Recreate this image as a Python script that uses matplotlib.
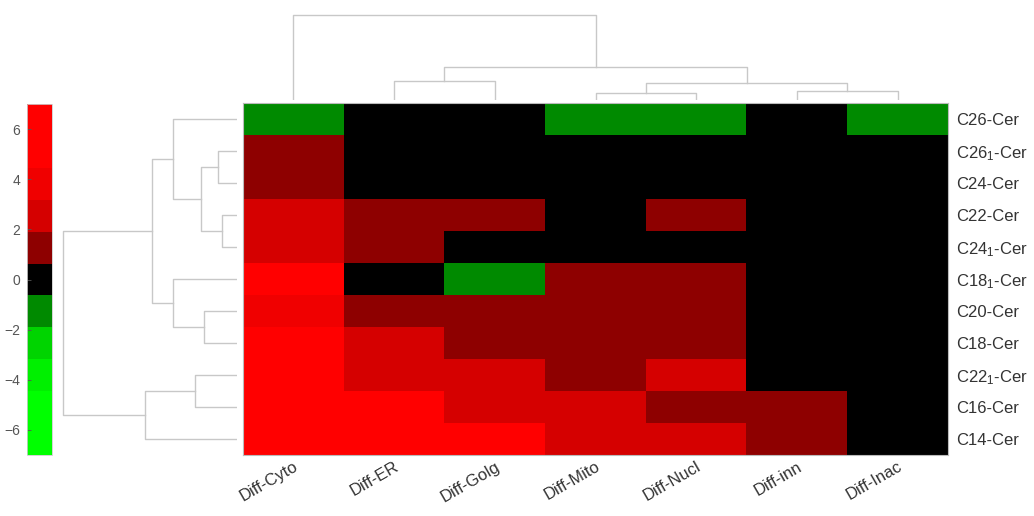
import numpy as np
import matplotlib
matplotlib.use("Agg")
import matplotlib.pyplot as plt
from matplotlib.colors import ListedColormap

plt.rcParams['font.family'] = ['Liberation Sans', 'DejaVu Sans']
plt.rcParams['mathtext.default'] = 'regular'

# samples (columns) and ceramide species (rows), in clustered order
cols = ['Diff-Cyto', 'Diff-ER', 'Diff-Golg', 'Diff-Mito', 'Diff-Nucl', 'Diff-inn', 'Diff-Inac']
rows = ['C26-Cer', 'C26$_1$-Cer', 'C24-Cer', 'C22-Cer', 'C24$_1$-Cer', 'C18$_1$-Cer',
        'C20-Cer', 'C18-Cer', 'C22$_1$-Cer', 'C16-Cer', 'C14-Cer']

vals = np.array([
    [-1.3, 0.0, 0.0, -1.3, -1.3, 0.0, -1.3],
    [1.3, 0.0, 0.0, 0.0, 0.0, 0.0, 0.0],
    [1.3, 0.0, 0.0, 0.0, 0.0, 0.0, 0.0],
    [2.5, 1.3, 1.3, 0.0, 1.3, 0.0, 0.0],
    [2.5, 1.3, 0.0, 0.0, 0.0, 0.0, 0.0],
    [5.5, 0.0, -1.3, 1.3, 1.3, 0.0, 0.0],
    [3.8, 1.3, 1.3, 1.3, 1.3, 0.0, 0.0],
    [5.5, 2.5, 1.3, 1.3, 1.3, 0.0, 0.0],
    [5.5, 2.5, 2.5, 1.3, 2.5, 0.0, 0.0],
    [5.5, 5.5, 2.5, 2.5, 1.3, 1.3, 0.0],
    [5.5, 5.5, 5.5, 2.5, 2.5, 1.3, 0.0],
])

# linkage tables: (left, right, height); new clusters numbered after the leaves
col_links = [(3, 4, 7), (5, 6, 9), (1, 2, 19), (7, 8, 17), (9, 10, 33), (0, 11, 85)]
row_links = [(1, 2, 19), (3, 4, 15), (11, 12, 36), (0, 13, 64), (6, 7, 33),
             (5, 15, 64), (14, 16, 85), (8, 9, 42), (18, 10, 92), (17, 19, 174)]

cmap_colors = ['#00ff00', '#00ff00', '#00f000', '#00d400', '#008a00', '#000000',
               '#8e0000', '#d50000', '#f00000', '#ff0000', '#ff0000']
cmap = ListedColormap(cmap_colors)

W, H = 1034, 516
fig = plt.figure(figsize=(W / 100, H / 100), dpi=100)


def px_axes(x0, y0, x1, y1):
    # axes from pixel box (top-left origin)
    return fig.add_axes([x0 / W, 1 - y1 / H, (x1 - x0) / W, (y1 - y0) / H])


def draw_dendro(ax, links, n, vertical):
    pos = {i: i + 0.5 for i in range(n)}
    hgt = {i: 0.0 for i in range(n)}
    for k, (a, b, h) in enumerate(links):
        xs = [pos[a], pos[a], pos[b], pos[b]]
        ys = [hgt[a], h, h, hgt[b]]
        if vertical:
            ax.plot(xs, ys, color='#c8c8c8', lw=1.0)
        else:
            ax.plot(ys, xs, color='#c8c8c8', lw=1.0)
        pos[n + k] = (pos[a] + pos[b]) / 2
        hgt[n + k] = h


# heatmap
ax = px_axes(243, 103, 948, 455)
im = ax.imshow(vals, cmap=cmap, vmin=-7, vmax=7, aspect='auto',
               interpolation='nearest', extent=(0, len(cols), len(rows), 0))
ax.set_xticks(np.arange(len(cols)) + 0.5)
ax.set_xticklabels(cols, rotation=30, ha='right', rotation_mode='anchor',
                   fontsize=12, color='#333333')
ax.set_yticks(np.arange(len(rows)) + 0.5)
ax.set_yticklabels(rows, fontsize=12, color='#333333')
ax.yaxis.tick_right()
ax.tick_params(length=0)
ax.tick_params(axis='y', pad=6)
ax.tick_params(axis='x', pad=3)
for s in ax.spines.values():
    s.set_color('#bbbbbb')
    s.set_linewidth(0.8)

# column dendrogram
axt = px_axes(243, 12, 948, 100)
draw_dendro(axt, col_links, len(cols), vertical=True)
axt.set_xlim(0, len(cols))
axt.set_ylim(0, 88)
axt.axis('off')

# row dendrogram
axl = px_axes(60, 103, 237, 455)
draw_dendro(axl, row_links, len(rows), vertical=False)
axl.set_ylim(len(rows), 0)
axl.set_xlim(177, 0)
axl.axis('off')

# colour scale
cax = px_axes(27, 104, 52, 455)
cb = fig.colorbar(im, cax=cax, ticks=[-6, -4, -2, 0, 2, 4, 6])
cax.yaxis.set_ticks_position('left')
cax.tick_params(labelsize=10, colors='#555555', direction='in', length=3, width=0.6, pad=5)
cb.outline.set_edgecolor('#cccccc')
cb.outline.set_linewidth(0.6)

fig.savefig('out.png', dpi=100)
